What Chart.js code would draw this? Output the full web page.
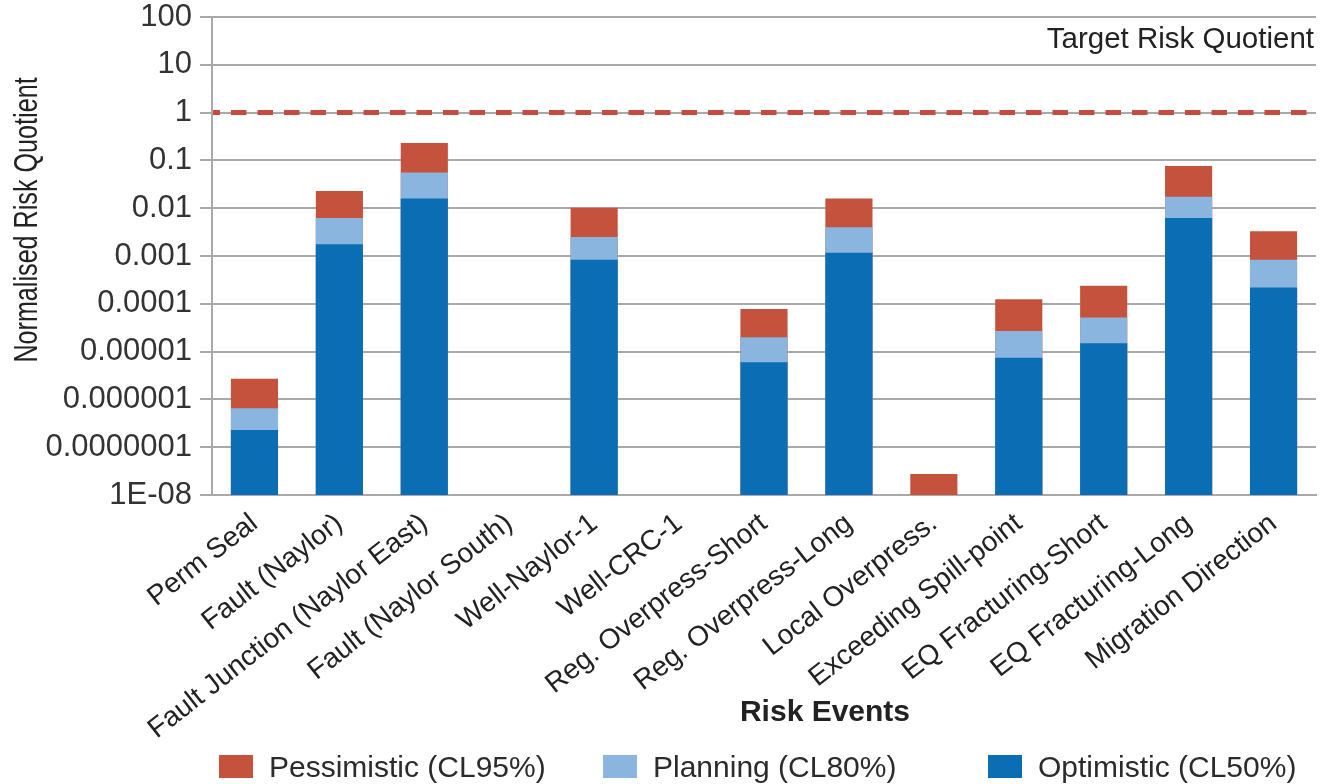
<!DOCTYPE html>
<html>
<head>
<meta charset="utf-8">
<script src="https://cdn.jsdelivr.net/npm/chart.js@4/dist/chart.umd.min.js"></script>
<style>
  html, body { margin: 0; padding: 0; background: #fff; }
  #wrap { position: relative; width: 1333px; height: 784px; overflow: hidden; }
  #chart { position: absolute; left: 0; top: 0; }
  .leg { position: absolute; top: 752px; height: 29px; display: flex; align-items: center;
         font-family: "Liberation Sans", Arial, sans-serif; font-size: 30px; color: #2b2b2b; white-space: nowrap; }
  .leg i { display: inline-block; width: 34px; height: 23px; margin-right: 16px; }
</style>
</head>
<body>
<div id="wrap">
  <canvas id="chart" width="1333" height="784"></canvas>
  <div class="leg" style="left:219px"><i style="background:#c4523c"></i>Pessimistic (CL95%)</div>
  <div class="leg" style="left:603px"><i style="background:#8ab5de"></i>Planning (CL80%)</div>
  <div class="leg" style="left:988px"><i style="background:#0b6db4"></i>Optimistic (CL50%)</div>
</div>
<script>
// Risk events on the x axis
const categories = [
  'Perm Seal', 'Fault (Naylor)', 'Fault Junction (Naylor East)', 'Fault (Naylor South)',
  'Well-Naylor-1', 'Well-CRC-1', 'Reg. Overpress-Short', 'Reg. Overpress-Long',
  'Local Overpress.', 'Exceeding Spill-point', 'EQ Fracturing-Short', 'EQ Fracturing-Long',
  'Migration Direction'
];

// Normalised risk quotient per confidence level (null = no value)
const pessimistic = [2.7e-6, 0.023, 0.23, null, 0.0102, null, 7.8e-5, 0.016, 2.75e-8, 1.24e-4, 2.4e-4, 0.076, 0.0033];
const planning    = [6.5e-7, 0.0062, 0.056, null, 0.0025, null, 2.0e-5, 0.0040, null, 2.7e-5, 5.2e-5, 0.0174, 8.3e-4];
const optimistic  = [2.3e-7, 0.00176, 0.016, null, 0.00083, null, 6.0e-6, 0.00117, null, 7.4e-6, 1.5e-5, 0.0062, 2.2e-4];

// Decade ticks of the log axis and their printed labels
const tickValues = [1e-8, 1e-7, 1e-6, 1e-5, 1e-4, 1e-3, 1e-2, 1e-1, 1, 10, 100];
const tickLabels = ['1E-08', '0.0000001', '0.000001', '0.00001', '0.0001', '0.001', '0.01', '0.1', '1', '10', '100'];

const targetQuotient = 1;
const targetLabel = 'Target Risk Quotient';
const yTitle = 'Normalised Risk Quotient';
const xTitle = 'Risk Events';

const FONT = '"Liberation Sans", Arial, sans-serif';
const GRID = '#a9a9a9';

// Dashed target line, its caption and the axis titles
const annotations = {
  id: 'annotations',
  beforeDatasetsDraw(chart) {
    const { ctx, chartArea: a, scales: { y } } = chart;
    const py = y.getPixelForValue(targetQuotient);
    ctx.save();
    ctx.strokeStyle = '#c64b40';
    ctx.lineWidth = 5;
    ctx.setLineDash([15.5, 11]);
    ctx.lineDashOffset = 8.5;
    ctx.beginPath();
    ctx.moveTo(a.left + 1, py);
    ctx.lineTo(a.right, py);
    ctx.stroke();
    ctx.restore();
  },
  afterDraw(chart) {
    const { ctx, chartArea: a, scales: { y } } = chart;
    ctx.save();
    // caption above the target line
    ctx.fillStyle = '#222';
    ctx.font = '29.5px ' + FONT;
    ctx.textAlign = 'right';
    ctx.textBaseline = 'alphabetic';
    ctx.fillText(targetLabel, a.right - 2, y.getPixelForValue(10) - 17);

    // condensed vertical y-axis title
    ctx.translate(a.left - 184, a.top + 203);
    ctx.rotate(-Math.PI / 2);
    ctx.scale(0.74, 1);
    ctx.font = '34px ' + FONT;
    ctx.textAlign = 'center';
    ctx.textBaseline = 'middle';
    ctx.fillStyle = '#222';
    ctx.fillText(yTitle, 0, 0);
    ctx.restore();

    // x-axis title
    ctx.save();
    ctx.font = 'bold 30px ' + FONT;
    ctx.fillStyle = '#222';
    ctx.textAlign = 'center';
    ctx.textBaseline = 'middle';
    ctx.fillText(xTitle, 825, 713);
    ctx.restore();
  }
};

new Chart(document.getElementById('chart'), {
  type: 'bar',
  data: {
    labels: categories,
    datasets: [
      { label: 'Pessimistic (CL95%)', data: pessimistic, backgroundColor: '#c4523c', order: 3 },
      { label: 'Planning (CL80%)', data: planning, backgroundColor: '#8ab5de', order: 2 },
      { label: 'Optimistic (CL50%)', data: optimistic, backgroundColor: '#0b6db4', order: 1 }
    ]
  },
  options: {
    responsive: false,
    animation: false,
    layout: { padding: { left: 0, right: 17, top: 17, bottom: 0 } },
    datasets: { bar: { categoryPercentage: 1, barPercentage: 0.555 } },
    plugins: { legend: { display: false }, tooltip: { enabled: false } },
    scales: {
      x: {
        stacked: true,
        grid: { display: false },
        border: { display: true, color: GRID, width: 2 },
        ticks: {
          font: { family: FONT, size: 28 },
          color: '#222',
          minRotation: 38,
          maxRotation: 38,
          autoSkip: false,
          padding: 4
        },
        afterFit(s) { s.height = 289; }
      },
      y: {
        type: 'logarithmic',
        stacked: false,
        min: 1e-8,
        max: 100,
        grid: { color: GRID, lineWidth: 2, tickLength: 12, drawTicks: true },
        border: { display: true, color: GRID, width: 2 },
        ticks: {
          font: { family: FONT, size: 31 },
          color: '#333',
          padding: 8,
          callback: (v) => {
            const i = tickValues.findIndex(t => Math.abs(Math.log10(t) - Math.log10(v)) < 1e-6);
            return i >= 0 ? tickLabels[i] : '';
          }
        },
        afterBuildTicks(s) { s.ticks = tickValues.map(v => ({ value: v })); },
        afterFit(s) { s.width = 212; s.paddingTop = 0; s.paddingBottom = 0; }
      }
    }
  },
  plugins: [annotations]
});
</script>
</body>
</html>
